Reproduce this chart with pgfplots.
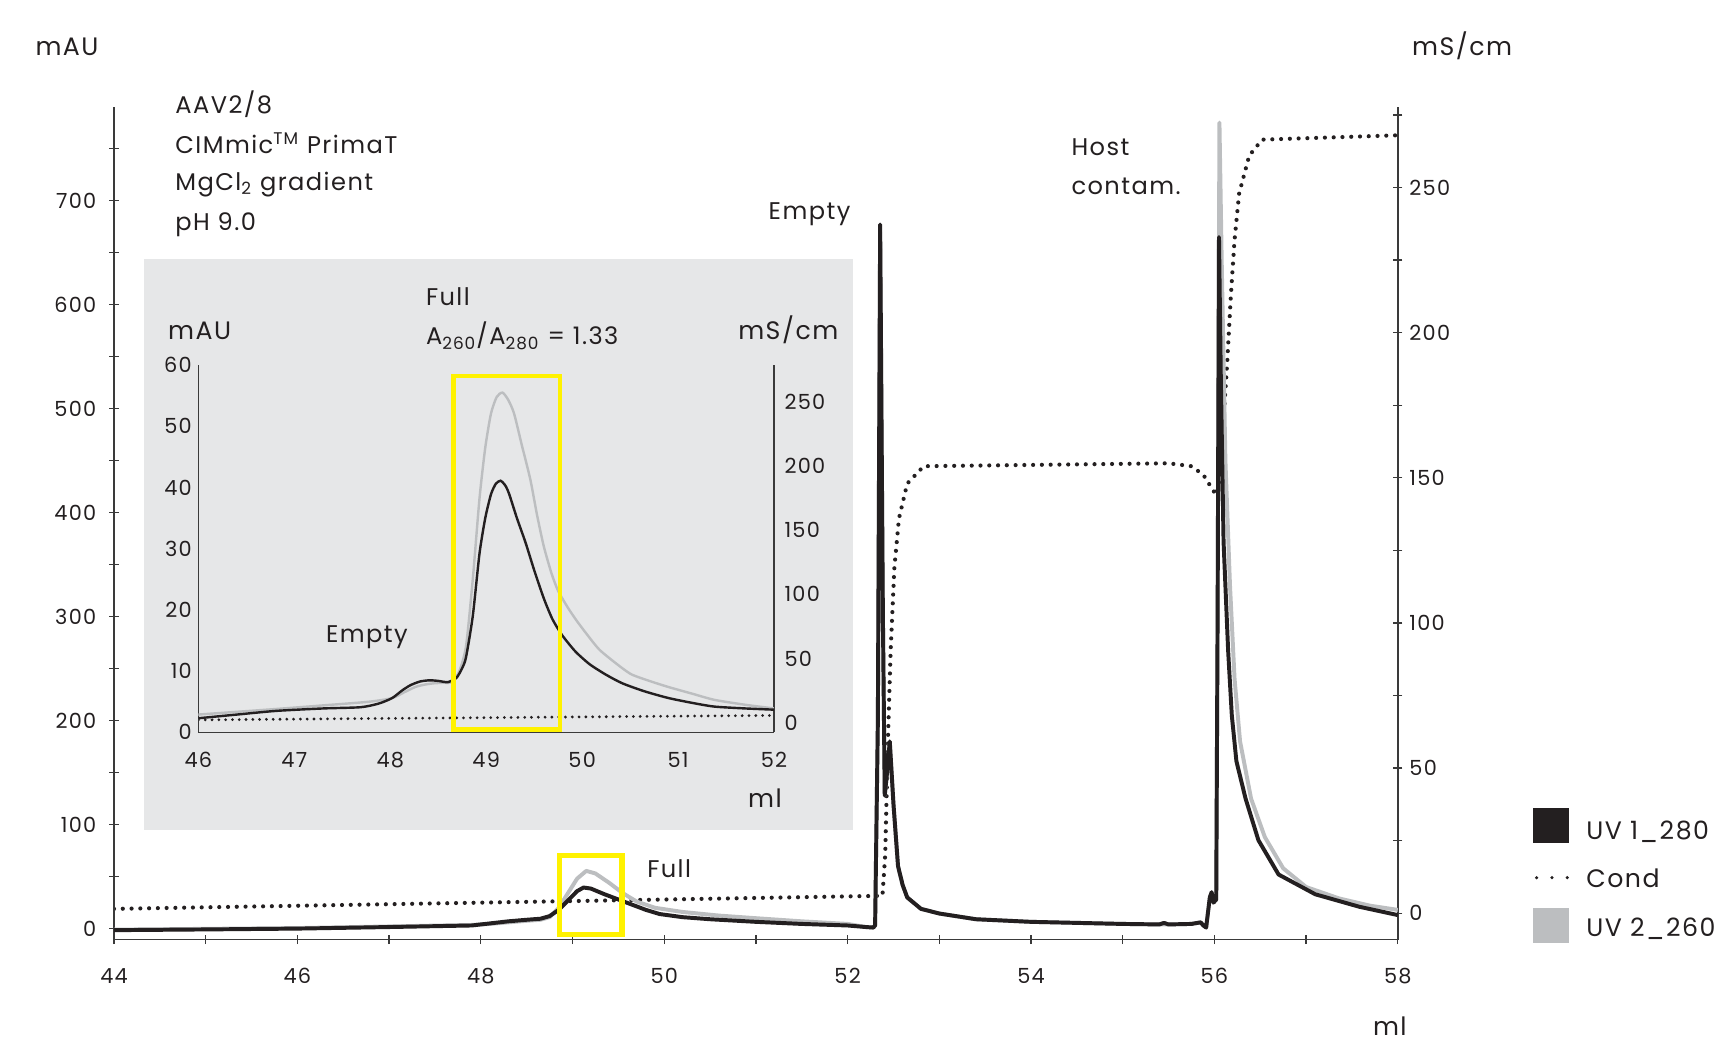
\documentclass[border=0pt]{standalone}
\usepackage{fontspec}
\setmainfont{Poppins}[LetterSpace=6]
\usepackage{pgfplots}
\pgfplotsset{compat=1.18}
\definecolor{txt}{HTML}{231F20}
\definecolor{uvk}{HTML}{231F20}
\definecolor{uvg}{HTML}{BCBEC0}
\definecolor{ylw}{HTML}{FFF200}
\definecolor{bgc}{HTML}{E6E7E8}
\definecolor{axc}{HTML}{3A3A3A}

% ---------- main chart data (ml, mAU) ----------
\pgfplotstableread{
x y
44 -1.5
45 -0.8
46 0
47 1.5
47.9 3
48.1 5
48.3 7
48.5 8.5
48.65 9.5
48.75 12
48.85 18
48.95 27
49.05 36
49.12 39.5
49.2 38.5
49.35 33
49.5 28
49.65 23
49.8 18
49.95 14
50.2 11
50.5 9
51.0 6.5
51.5 4.5
52.0 3
52.2 1.5
52.28 1
52.3 3
52.33 200
52.355 677
52.385 300
52.405 128
52.43 150
52.46 180
52.5 120
52.55 60
52.6 42
52.65 30
52.8 19
53.0 14.5
53.4 9
54.0 6.5
54.5 5.5
55.0 4.5
55.4 4
55.45 5.5
55.5 4
55.75 4.5
55.85 6
55.88 3
55.91 1
55.95 30
55.97 35
55.99 25
56.02 28
56.035 300
56.05 665
56.07 530
56.1 372
56.15 267
56.19 205
56.24 161
56.34 125
56.48 85
56.7 52
57.1 33
57.58 21
58.0 13
}\uvmain

\pgfplotstableread{
x y
44 -1
46 0.5
47.9 3.5
48.1 4.5
48.3 6
48.5 7.5
48.65 8.5
48.75 11
48.85 20
48.95 34
49.05 48
49.15 55.5
49.25 53
49.4 44
49.55 34
49.7 26
49.9 20
50.2 16
50.6 12.5
51.0 10
51.5 7
52.0 4.5
52.2 1.5
52.28 1
52.3 3
52.33 200
52.355 670
52.385 300
52.405 128
52.43 150
52.46 178
52.5 120
52.55 60
52.6 42
52.65 30
52.8 19
53.0 14.5
53.4 9
54.0 6.5
54.5 5.5
55.0 4.5
55.4 4
55.5 4
55.75 4.5
55.85 6
55.88 3
55.91 1
55.95 30
55.97 35
55.99 25
56.02 28
56.035 300
56.055 775
56.08 640
56.12 450
56.17 330
56.22 240
56.28 180
56.4 125
56.55 88
56.75 58
57.0 40
57.36 29
57.7 22
58.0 18
}\uvmaingray

\pgfplotstableread{
x y
44 1.5
52.38 6
52.41 20
52.44 60
52.47 91
52.51 119
52.56 136
52.65 148
52.83 154
55.5 155
55.75 154
55.88 151
55.98 146
56.02 144
56.06 150
56.1 170
56.14 190
56.18 213
56.22 232
56.27 248
56.38 261
56.52 266.5
58 268
}\condmain

% ---------- inset data ----------
\pgfplotstableread{
x y
46.0 2.3
46.4 2.9
46.81 3.5
47.3 3.9
47.69 4.1
47.88 4.7
48.02 5.6
48.12 6.8
48.21 7.7
48.31 8.3
48.41 8.5
48.5 8.4
48.6 8.2
48.69 8.9
48.75 10.5
48.79 12.3
48.86 19
48.93 29.2
48.99 35
49.05 38.9
49.1 40.6
49.15 41.1
49.2 40.3
49.24 38.9
49.32 35
49.41 31
49.5 26.5
49.6 21.9
49.69 18.5
49.79 15.9
49.93 13.2
50.08 11.1
50.25 9.4
50.42 8
50.65 6.7
50.9 5.6
51.15 4.8
51.38 4.2
51.7 3.9
52.0 3.7
}\uvinset

\pgfplotstableread{
x y
46.0 2.9
46.8 3.8
47.3 4.4
47.78 5
48.02 5.6
48.14 6.5
48.26 7.4
48.36 7.8
48.45 8
48.55 8.1
48.64 8.2
48.72 10
48.79 14.1
48.86 25
48.93 38.2
48.99 46.5
49.05 52.1
49.11 54.8
49.17 55.5
49.23 54.3
49.29 52.1
49.37 47
49.46 41.3
49.53 35.5
49.6 30.4
49.68 26
49.75 23.1
49.85 20.4
49.94 18.3
50.06 15.8
50.18 13.5
50.35 11.3
50.51 9.5
50.7 8.4
50.9 7.4
51.15 6.3
51.38 5.3
51.7 4.5
52.0 3.9
}\uvinsetgray

\pgfplotstableread{
x y
46 2
52 5.5
}\condinset

\pgfplotsset{
  common/.style={
    scale only axis,
    anchor=south west,
    /pgf/number format/assume math mode=true,
    /pgf/number format/1000 sep={},
    axis line style={-, draw=axc, line width=0.7pt},
    ticklabel style={font=\fontsize{9.5}{11}\selectfont, text=txt},
  },
  mainbox/.style={common, at={(0pt,0pt)}, width=585.5pt, height=379.5pt,
    xmin=44, xmax=58,
    tick align=center, major tick length=4.2pt, minor tick length=4.2pt,
    tick style={draw=axc, line width=0.6pt},
  },
  insetbox/.style={common, at={(38.5pt,94.5pt)}, width=262.5pt, height=167.5pt,
    xmin=46, xmax=52, major tick length=0pt, minor tick length=0pt,
  },
}

\begin{document}
\begin{tikzpicture}[font=\fontsize{11}{13}\selectfont, text=txt,
  lab/.style={anchor=base west, inner sep=0pt},
  unit/.style={lab, font=\fontsize{11.5}{13}\selectfont}]
\useasboundingbox (-52pt,-49.5pt) rectangle (732pt,428.5pt);
\fill[bgc] (13.5pt,50pt) rectangle (337pt,310.5pt);

% conductivity (right axis)
\begin{axis}[mainbox,
  ymin=-9.06, ymax=277.6,
  axis x line=none, axis y line*=right,
  ytick={0,50,...,250}, minor ytick={25,75,...,275},
  yticklabel style={xshift=-0.3pt},
]
\addplot[uvk, line width=1.9pt, line cap=round, dash pattern=on 0pt off 4pt] table {\condmain};
\end{axis}

% UV (left axis)
\begin{axis}[mainbox,
  ymin=-10.5, ymax=789.6,
  axis x line*=bottom, axis y line*=left,
  xtick={44,46,...,58}, minor xtick={45,47,...,57},
  ytick={0,100,...,700}, minor ytick={50,150,...,750},
  xticklabel style={yshift=-7.5pt},
  yticklabel style={xshift=-2.5pt},
]
\addplot[uvg, line width=1.8pt, line join=round] table {\uvmaingray};
\addplot[uvk, line width=1.8pt, line join=round] table {\uvmain};
\draw[ylw, line width=2.4pt] (axis cs:48.86,-5.8) rectangle (axis cs:49.54,70);
\end{axis}

% inset: conductivity
\begin{axis}[insetbox,
  ymin=-7.7, ymax=279,
  axis x line=none, axis y line*=right,
  ytick={0,50,...,250},
  yticklabel style={xshift=1.3pt},
]
\addplot[uvk, line width=1.4pt, line cap=round, dash pattern=on 0pt off 3.1pt] table {\condinset};
\end{axis}

% inset: UV
\begin{axis}[insetbox,
  ymin=0, ymax=60,
  axis x line*=bottom, axis y line*=left,
  xtick={46,47,...,52}, ytick={0,10,...,60},
  xticklabel style={yshift=-5.5pt},
  yticklabel style={xshift=0.5pt},
]
\addplot[uvg, line width=1.1pt, smooth, tension=0.4] table {\uvinsetgray};
\addplot[uvk, line width=1.1pt, smooth, tension=0.4] table {\uvinset};
\draw[ylw, line width=2.2pt] (axis cs:48.66,0.5) rectangle (axis cs:49.77,58.2);
\end{axis}

% texts, main
\node[unit] at (-36pt,403.4pt) {mAU};
\node[unit] at (591.8pt,403.4pt) {mS/cm};
\node[unit] at (574pt,-44pt) {ml};
\node[lab] at (27.8pt,376.8pt) {AAV2/8};
\node[lab] at (27.8pt,358.5pt) {CIMmic\textsuperscript{TM} PrimaT};
\node[lab] at (27.8pt,341.5pt) {MgCl\textsubscript{2} gradient};
\node[lab] at (27.8pt,323.5pt) {pH 9.0};
\node[lab] at (298.4pt,328.5pt) {Empty};
\node[lab] at (436.5pt,357.5pt) {Host};
\node[lab] at (436.5pt,339.9pt) {contam.};
\node[lab] at (243pt,28.5pt) {Full};

% texts, inset
\node[unit] at (24.5pt,273.5pt) {mAU};
\node[unit] at (284.5pt,273.5pt) {mS/cm};
\node[lab] at (142.1pt,289pt) {Full};
\node[lab] at (142.1pt,271.2pt) {A\textsubscript{260}/A\textsubscript{280} = 1.33};
\node[lab] at (96.5pt,135.5pt) {Empty};
\node[unit] at (289pt,60pt) {ml};

% legend
\fill[uvk] (647.3pt,43.9pt) rectangle (663.8pt,59.9pt);
\fill[uvg] (647.3pt,-1.75pt) rectangle (663.8pt,14.25pt);
\draw[uvk, line width=1.6pt, line cap=round, dash pattern=on 0pt off 7pt] (648.8pt,28.2pt) -- (663pt,28.2pt);
\node[lab, font=\fontsize{11.5}{13}\selectfont] at (671.3pt,45.4pt) {UV 1\_280};
\node[lab, font=\fontsize{11.5}{13}\selectfont] at (671.3pt,23.8pt) {Cond};
\node[lab, font=\fontsize{11.5}{13}\selectfont] at (671.3pt,1.3pt) {UV 2\_260};
\end{tikzpicture}
\end{document}
